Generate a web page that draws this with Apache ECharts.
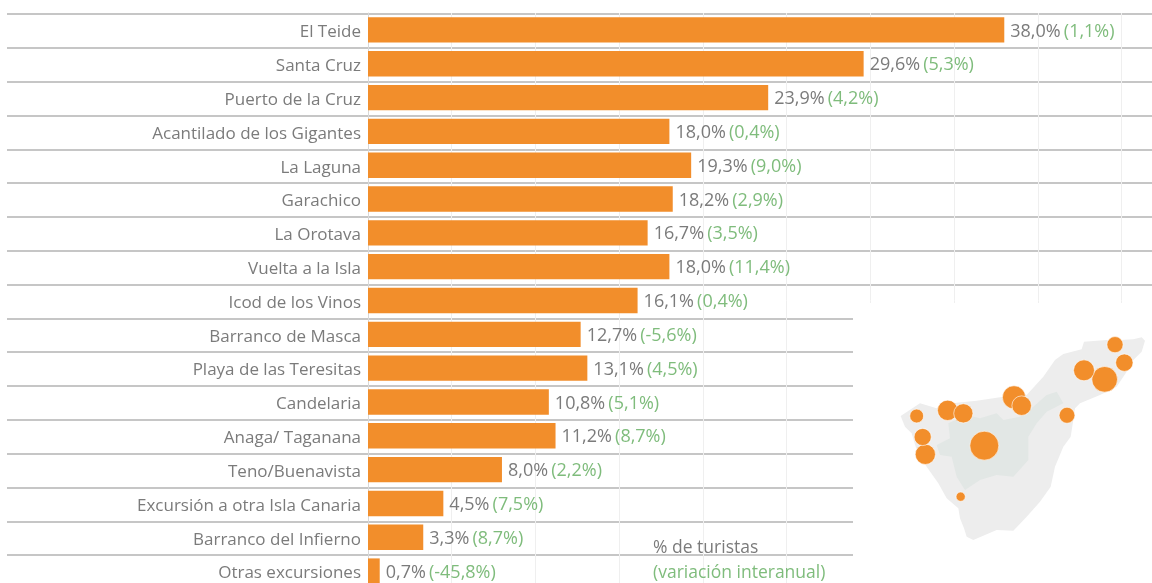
<!DOCTYPE html>
<html><head><meta charset="utf-8">
<style>html,body{margin:0;padding:0;background:#fff;overflow:hidden;height:583px}#c{width:1152px;height:620px}</style>
<script src="https://cdn.jsdelivr.net/npm/echarts@6/dist/echarts.min.js"></script>
</head><body><div id="c"></div>
<script>
const categories = ["El Teide","Santa Cruz","Puerto de la Cruz","Acantilado de los Gigantes","La Laguna","Garachico","La Orotava","Vuelta a la Isla","Icod de los Vinos","Barranco de Masca","Playa de las Teresitas","Candelaria","Anaga/ Taganana","Teno/Buenavista","Excursión a otra Isla Canaria","Barranco del Infierno","Otras excursiones"];
const shares = [38.0,29.6,23.9,18.0,19.3,18.2,16.7,18.0,16.1,12.7,13.1,10.8,11.2,8.0,4.5,3.3,0.7];
const changes = [1.1,5.3,4.2,0.4,9.0,2.9,3.5,11.4,0.4,-5.6,4.5,5.1,8.7,2.2,7.5,8.7,-45.8];
// map units: positions
const mapPlaces = ["El Teide","Santa Cruz","Puerto de la Cruz","Acantilado de los Gigantes","La Laguna","Garachico","La Orotava","Icod de los Vinos","Barranco de Masca","Playa de las Teresitas","Candelaria","Anaga/ Taganana","Teno/Buenavista","Barranco del Infierno"];
const mapX = [613,974,702,436,912,503,725,550,428,1033,861,1005,410,542];
const mapY = [497,298,352,523,271,391,377,400,471,248,406,194,408,650];
const islandOutline = [[362,408],[420,370],[470,385],[530,368],[590,362],[670,350],[700,330],[740,345],[790,290],[825,240],[850,222],[905,208],[912,185],[980,180],[1020,180],[1060,178],[1085,172],[1095,182],[1085,215],[1060,240],[1040,275],[1010,320],[960,345],[900,370],[885,385],[880,420],[872,470],[850,500],[825,560],[812,620],[780,665],[740,710],[700,752],[650,750],[580,780],[560,770],[552,745],[540,715],[535,685],[500,655],[475,610],[440,560],[410,510],[395,460],[375,440]];
const parkOutline = [[505,430],[560,405],[600,415],[650,400],[670,420],[720,410],[760,380],[800,345],[830,335],[850,370],[800,395],[770,430],[745,470],[745,540],[700,590],[650,585],[600,600],[555,630],[530,590],[515,530],[480,525],[470,495],[510,475]];
const legendLines = ["% de turistas","(variación interanual)"];

const FONT = '"Open Sans"';
const GRAY = '#7b7b7b', GREEN = '#7fbc7c', ORANGE = '#f28e2b';
const fmt = v => v.toFixed(1).replace('.', ',') + '%';

const chart = echarts.init(document.getElementById('c'), null, {renderer:'canvas'});
chart.setOption({
  animation:false,
  backgroundColor:'#fff',
  textStyle:{fontFamily:FONT},
  grid:[
    {left:368, top:13, width:753.5, height:575},
    {left:7, top:14, width:1145, height:575},
    {left:780, top:280, width:372, height:303}
  ],
  xAxis:[
    {gridIndex:0, type:'value', min:0, max:45, interval:5,
      axisLabel:{show:false}, axisLine:{show:false}, axisTick:{show:false},
      splitLine:{show:true, lineStyle:{color:'#efefef', width:1}}},
    {gridIndex:1, type:'value', show:false, min:0, max:1},
    {gridIndex:2, type:'value', show:false, min:0, max:1116}
  ],
  yAxis:[
    {gridIndex:0, type:'category', data:categories, inverse:true,
      axisTick:{show:false}, axisLine:{show:true, lineStyle:{color:'#d8d8d8', width:1}},
      splitLine:{show:false},
      axisLabel:{interval:0, margin:7, align:'right', formatter:'{n|{value}}',
        rich:{n:{fontFamily:FONT, fontSize:17, color:GRAY, padding:[5,0,0,0]}}}},
    {gridIndex:1, type:'category', data:categories, inverse:true,
      axisTick:{show:false}, axisLine:{show:false}, axisLabel:{show:false},
      splitLine:{show:true, interval:0, lineStyle:{color:'#c6c6c6', width:2}}},
    {gridIndex:2, type:'value', show:false, min:0, max:909, inverse:true}
  ],
  graphic:[
    {type:'rect', z:5, shape:{x:853,y:303,width:299,height:320}, style:{fill:'#fff'}},
    {type:'text', z:20, left:653, top:539, style:{text:legendLines[0], fill:GRAY, font:'17.5px '+FONT}},
    {type:'text', z:20, left:653, top:564, style:{text:legendLines[1], fill:GREEN, font:'17.5px '+FONT}}
  ],
  series:[
    {type:'bar', xAxisIndex:0, yAxisIndex:0, data:shares, barCategoryGap:'25%', z:3,
      itemStyle:{color:ORANGE},
      label:{show:true, position:'right', distance:6, padding:[3,0,0,0],
        formatter:p => '{a|'+fmt(shares[p.dataIndex])+'} {b|('+fmt(changes[p.dataIndex])+')}',
        rich:{a:{color:GRAY, fontSize:18, fontFamily:FONT}, b:{color:GREEN, fontSize:18, fontFamily:FONT}}}},
    {type:'custom', xAxisIndex:2, yAxisIndex:2, coordinateSystem:'cartesian2d', z:6, silent:true,
      data:[[0,0]], clip:false,
      renderItem:(params, api) => ({type:'group', children:[
        {type:'polygon', shape:{points:islandOutline.map(p=>api.coord(p))}, style:{fill:'#ededed'}},
        {type:'polygon', shape:{points:parkOutline.map(p=>api.coord(p))}, style:{fill:'#e2e7e5'}}
      ]})},
    {type:'scatter', xAxisIndex:2, yAxisIndex:2, z:8, silent:true,
      data:mapPlaces.map((n,i)=>[mapX[i], mapY[i], shares[categories.indexOf(n)]]),
      symbolSize:d => 4.54*Math.sqrt(d[2])+1,
      itemStyle:{color:ORANGE, opacity:1, borderColor:'rgba(255,255,255,0.6)', borderWidth:1}}
  ]
});
</script></body></html>
